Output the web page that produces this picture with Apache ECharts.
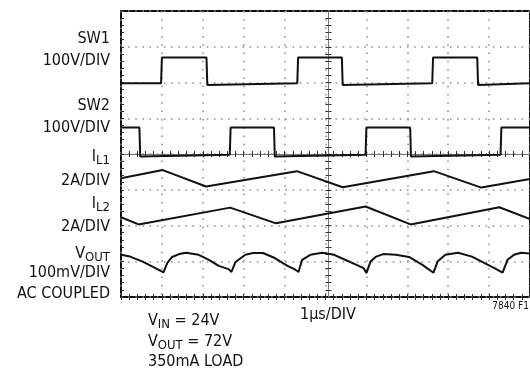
<!DOCTYPE html>
<html><head><meta charset="utf-8">
<script src="https://cdn.jsdelivr.net/npm/echarts@6/dist/echarts.min.js"></script>
<style>html,body{margin:0;padding:0;background:#fff}#c{width:530px;height:371px}</style>
</head><body><div id="c"></div>
<script>
// time in µs (1 µs/DIV), vertical position in screen divisions (0 = bottom, 8 = top)
const sw1 = [[0,5.98],[0.98,5.98],[1.0,6.70],[2.09,6.70],[2.11,5.93],[2.14,5.98],[4.31,5.98],[4.33,6.70],[5.40,6.70],[5.42,5.93],[5.45,5.98],[7.61,5.98],[7.63,6.70],[8.71,6.70],[8.73,5.93],[8.76,5.98],[10,5.98]];
const sw2 = [[0,4.74],[0.45,4.74],[0.47,3.93],[0.50,3.98],[2.66,3.98],[2.68,4.74],[3.74,4.74],[3.76,3.93],[3.79,3.98],[5.98,3.98],[6.0,4.74],[7.07,4.74],[7.09,3.93],[7.12,3.98],[9.28,3.98],[9.30,4.74],[10,4.74]];
const il1 = [[0,3.32],[1.02,3.55],[2.08,3.09],[4.30,3.52],[5.42,3.07],[7.65,3.52],[8.81,3.06],[10,3.30]];
const il2 = [[0,2.23],[0.43,2.03],[2.67,2.50],[3.79,2.06],[5.98,2.53],[7.08,2.03],[9.25,2.51],[10,2.18]];
const vout = [[0,1.18],[0.22,1.13],[0.53,0.99],[0.77,0.85],[1.04,0.69],[1.13,0.95],[1.25,1.12],[1.42,1.20],[1.59,1.24],[1.90,1.18],[2.15,1.04],[2.39,0.87],[2.63,0.78],[2.70,0.70],[2.80,0.98],[3.04,1.18],[3.23,1.23],[3.47,1.23],[3.76,1.09],[4.07,0.87],[4.24,0.78],[4.34,0.70],[4.43,1.04],[4.63,1.18],[4.92,1.24],[5.21,1.18],[5.52,1.02],[5.76,0.90],[5.93,0.81],[6.00,0.67],[6.10,0.99],[6.24,1.13],[6.41,1.20],[6.72,1.18],[7.04,1.12],[7.37,0.90],[7.64,0.68],[7.74,0.99],[7.93,1.18],[8.24,1.24],[8.58,1.13],[8.89,0.95],[9.13,0.81],[9.33,0.68],[9.45,1.04],[9.61,1.18],[9.78,1.24],[10,1.22]];

const FONT = '"Liberation Sans Narrow","DejaVu Sans Condensed","Liberation Sans",sans-serif';
const chart = echarts.init(document.getElementById('c'), null, {renderer:'canvas'});

const dotted = (gap)=>({show:true, lineStyle:{color:'#8a8a8a', width:1.5, type:[1.5, gap]}});
function xAx(opts){
  return Object.assign({type:'value', min:0, max:10, interval:1, gridIndex:0,
    axisLabel:{show:false}, splitLine:{show:false},
    axisLine:{show:false},
    axisTick:{show:true, inside:true, length:3, lineStyle:{color:'#333', width:1}},
    minorTick:{show:true, splitNumber:5, length:3, lineStyle:{color:'#333', width:1}}}, opts);
}
function yAx(opts){
  return Object.assign({type:'value', min:0, max:8, interval:1, gridIndex:0,
    axisLabel:{show:false}, splitLine:{show:false},
    axisLine:{show:false},
    axisTick:{show:true, inside:true, length:3, lineStyle:{color:'#333', width:1}},
    minorTick:{show:true, splitNumber:5, length:3, lineStyle:{color:'#333', width:1}}}, opts);
}

function textEl(x, y, rich, text, align){
  return {type:'text', x:x, y:y, style:{text:text, align:align||'right', verticalAlign:'middle', fill:'#111',
    font:'16px '+FONT, rich:rich}};
}
const rich = {
  m:{fontSize:16, fontFamily:FONT, color:'#111', verticalAlign:'top'},
  s:{fontSize:13, fontFamily:FONT, color:'#111', verticalAlign:'top', padding:[6,0,0,0]}
};

chart.setOption({
  animation:false,
  backgroundColor:'#fff',
  grid:{left:121, top:11, width:415, height:286, show:true, borderColor:'#111', borderWidth:2, backgroundColor:'transparent'},
  xAxis:[
    xAx({position:'bottom', splitLine:dotted(6.8)}),
    xAx({position:'top'}),
    xAx({position:'bottom', offset:-143, axisLine:{show:true, lineStyle:{color:'#777', width:1}}}),
    xAx({position:'bottom', offset:-143, axisTick:{show:true, inside:false, length:3, lineStyle:{color:'#333', width:1}}})
  ],
  yAxis:[
    yAx({position:'left', splitLine:dotted(5.65)}),
    yAx({position:'left', offset:-207.5, axisLine:{show:true, lineStyle:{color:'#777', width:1}}}),
    yAx({position:'left', offset:-207.5, axisTick:{show:true, inside:false, length:3, lineStyle:{color:'#333', width:1}}})
  ],
  series:[sw1, sw2, il1, il2, vout].map(d=>({type:'line', data:d, xAxisIndex:0, yAxisIndex:0,
    symbol:'none', showSymbol:false, silent:true, z:5,
    lineStyle:{color:'#111', width:2}})),
  graphic:[
    textEl(110, 39, rich, 'SW1'),
    textEl(110, 61, rich, '100V/DIV'),
    textEl(110, 106, rich, 'SW2'),
    textEl(110, 128, rich, '100V/DIV'),
    textEl(110, 158, rich, '{m|I}{s|L1}'),
    textEl(110, 181, rich, '2A/DIV'),
    textEl(110, 205, rich, '{m|I}{s|L2}'),
    textEl(110, 227, rich, '2A/DIV'),
    textEl(110, 255, rich, '{m|V}{s|OUT}'),
    textEl(110, 273, rich, '100mV/DIV'),
    textEl(110, 294, rich, 'AC COUPLED'),
    textEl(148, 322, rich, '{m|V}{s|IN}{m| = 24V}', 'left'),
    textEl(148, 343, rich, '{m|V}{s|OUT}{m| = 72V}', 'left'),
    textEl(148, 362, rich, '350mA LOAD', 'left'),
    textEl(300, 315, rich, '1µs/DIV', 'left'),
    {type:'text', x:529, y:306, style:{text:'7840 F1', align:'right', verticalAlign:'middle', fill:'#111', font:'10px '+FONT}}
  ]
});
</script></body></html>
